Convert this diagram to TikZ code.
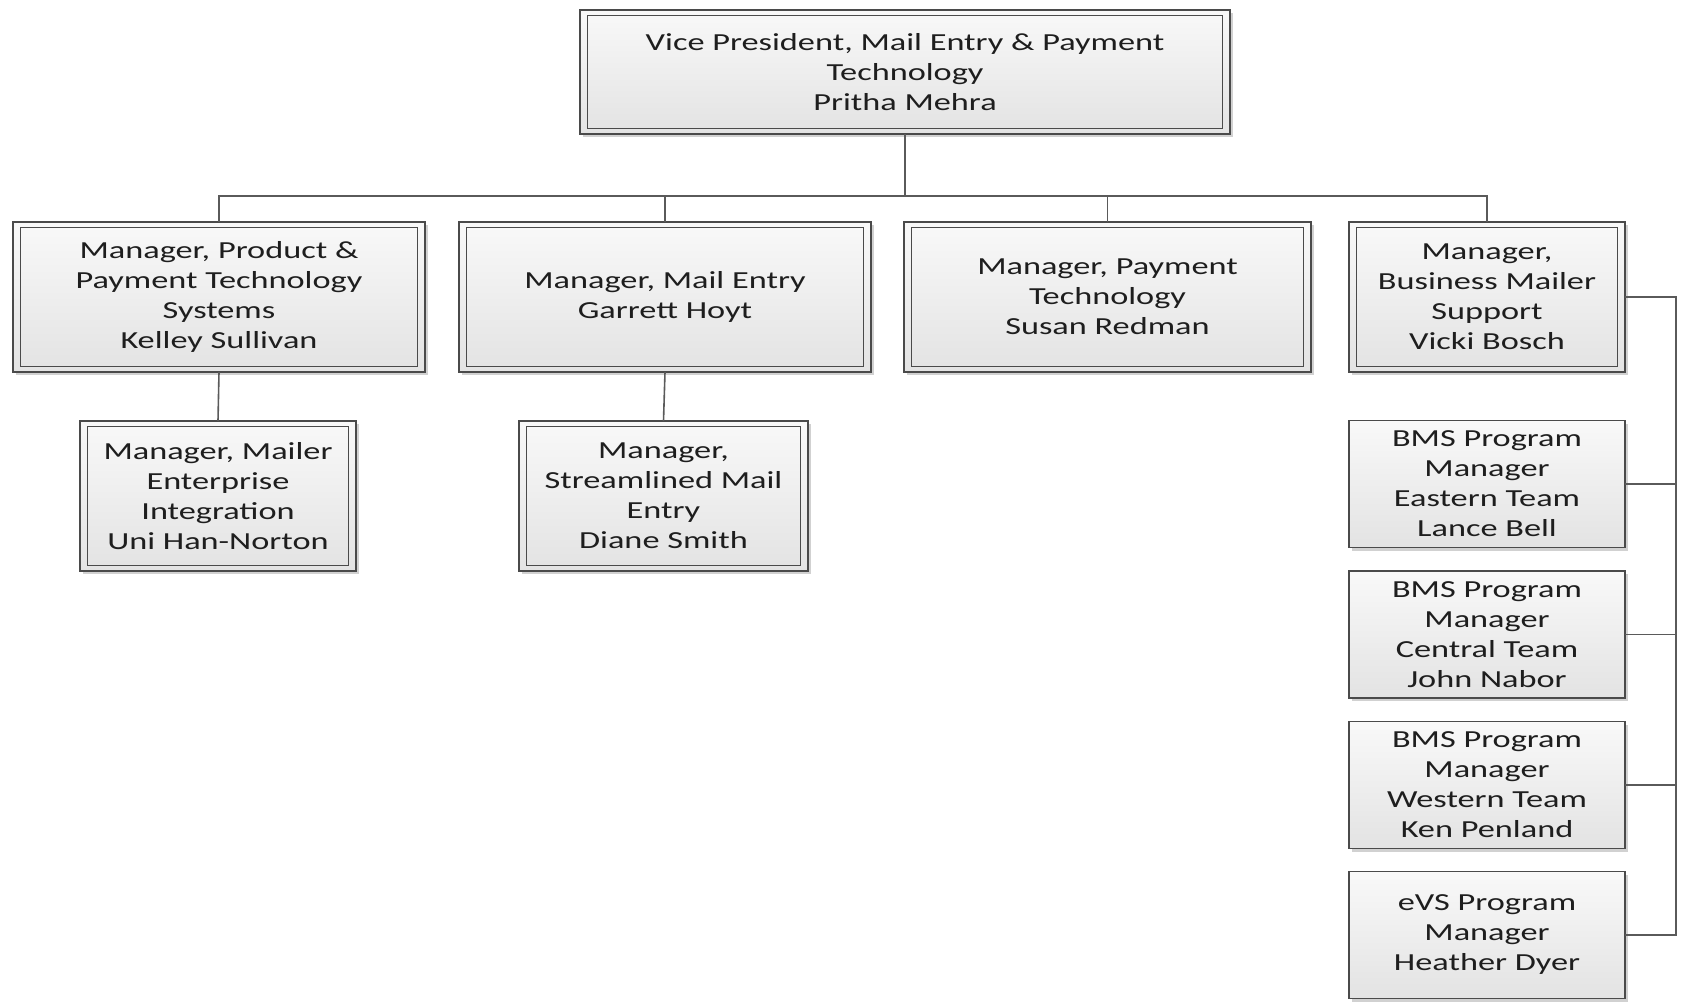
\documentclass[tikz,border=0pt]{standalone}
\usepackage{fontspec}
\setmainfont{Carlito}[FakeStretch=1.4]
\usetikzlibrary{shadows}
\definecolor{bord}{HTML}{4A4A4A}
\definecolor{conn}{HTML}{5A5A5A}
\definecolor{txt}{HTML}{1E1E1E}
\tikzset{
  box/.style={draw=bord, line width=1.5pt, top color=gray!5, bottom color=gray!22,
    text=txt, align=center, inner sep=0pt, outer sep=0pt,
    font=\fontsize{24.5}{30}\selectfont,
    drop shadow={shadow xshift=3pt, shadow yshift=-3pt, opacity=0.18, fill=black}},
  dbl/.style={path picture={\draw[bord, line width=1.4pt]
    ([xshift=7.5pt,yshift=-5.5pt]path picture bounding box.north west) rectangle
    ([xshift=-7.5pt,yshift=5.5pt]path picture bounding box.south east);}},
  wire/.style={draw=conn, line width=1.6pt}
}
\begin{document}
\begin{tikzpicture}[x=1pt,y=-1pt]
\useasboundingbox (0,0) rectangle (1681,1003);

\node[box,dbl,minimum width=650pt,minimum height=124pt] (vp) at (905,72)
  {Vice President, Mail Entry \& Payment\\Technology\\Pritha Mehra};

\node[box,dbl,minimum width=412pt,minimum height=150pt] (b1) at (219,297)
  {Manager, Product \&\\Payment Technology\\Systems\\Kelley Sullivan};
\node[box,dbl,minimum width=412pt,minimum height=150pt] (b2) at (665,297)
  {Manager, Mail Entry\\Garrett Hoyt};
\node[box,dbl,minimum width=407pt,minimum height=150pt] (b3) at (1107.5,297)
  {Manager, Payment\\Technology\\Susan Redman};
\node[box,dbl,minimum width=276pt,minimum height=150pt] (b4) at (1487,297)
  {Manager,\\Business Mailer\\Support\\Vicki Bosch};

\node[box,dbl,minimum width=276pt,minimum height=150pt] (c1) at (218,496)
  {Manager, Mailer\\Enterprise\\Integration\\Uni Han-Norton};
\node[box,dbl,minimum width=289pt,minimum height=150pt] (c2) at (663.5,496)
  {Manager,\\Streamlined Mail\\Entry\\Diane Smith};

\node[box,minimum width=276pt,minimum height=127pt] (d1) at (1487,484)
  {BMS Program\\Manager\\Eastern Team\\Lance Bell};
\node[box,minimum width=276pt,minimum height=127pt] (d2) at (1487,634.5)
  {BMS Program\\Manager\\Central Team\\John Nabor};
\node[box,minimum width=276pt,minimum height=127pt] (d3) at (1487,785)
  {BMS Program\\Manager\\Western Team\\Ken Penland};
\node[box,minimum width=276pt,minimum height=127pt] (d4) at (1487,935)
  {eVS Program\\Manager\\Heather Dyer};

\coordinate (bus) at (903,196);
\coordinate (rb) at (1676,0);

\draw[wire] (vp.south) -- (vp.south |- bus);
\draw[wire] (b1.north) -- (b1.north |- bus) -- (b4.north |- bus) -- (b4.north);
\draw[wire] (b2.north) -- (b2.north |- bus);
\draw[wire] (b3.north) -- (b3.north |- bus);
\draw[wire] (b1.south) -- (c1.north);
\draw[wire] (b2.south) -- (c2.north);

\draw[wire] (b4.east) -- (b4.east -| rb) -- (d4.east -| rb) -- (d4.east);
\draw[wire] (d1.east) -- (d1.east -| rb);
\draw[wire] (d2.east) -- (d2.east -| rb);
\draw[wire] (d3.east) -- (d3.east -| rb);
\end{tikzpicture}
\end{document}
